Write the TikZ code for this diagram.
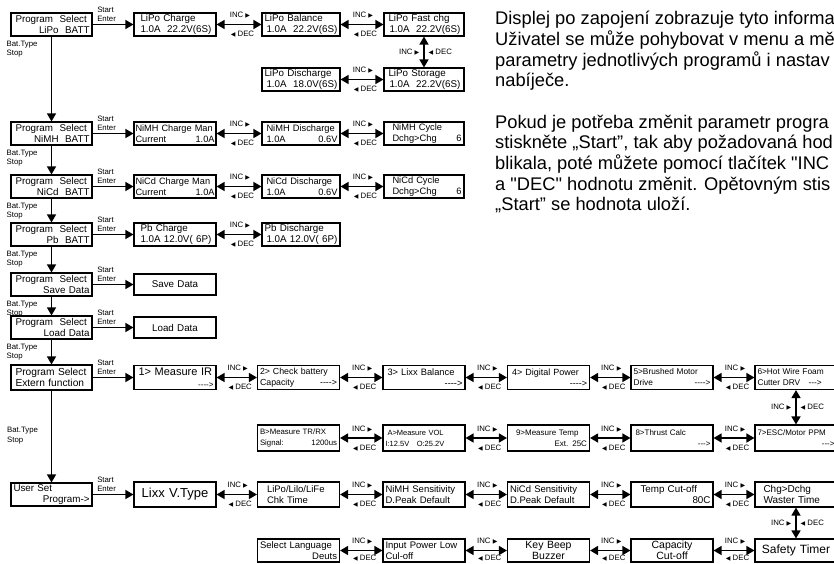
\documentclass[tikz,border=0pt]{standalone}
\usepackage{fontspec}
\setmainfont{Liberation Sans}[Ligatures=TeXOff]
\newfontfamily\symf{DejaVu Sans}
\usetikzlibrary{arrows.meta}

\newcommand\rtri{{\symf\fontsize{6}{5}\selectfont ▶}}
\newcommand\ltri{{\symf\fontsize{6}{5}\selectfont ◀}}

\tikzset{
  lcd/.style={draw, line width=1.1pt, minimum height=23pt, text width=#1,
    inner xsep=2.5pt, inner ysep=1pt, align=left,
    font=\fontsize{9.8}{11}\selectfont},
  lcd/.default=77pt,
  ent/.style={-{Triangle[length=8pt,width=9pt]}, line width=1.4pt},
  dbl/.style={{Triangle[length=8pt,width=9pt]}-{Triangle[length=8pt,width=9pt]}, line width=1.4pt},
  chain/.style={-{Triangle[length=8pt,width=9pt]}, line width=1.4pt},
  small/.style={font=\fontsize{7.8}{9.5}\selectfont, inner sep=0pt, align=left},
  inc/.style={small, above=5.5pt, xshift=1pt},
  dec/.style={small, below=6pt, xshift=3.5pt},
  decb/.style={small, below=4pt, xshift=3.5pt},
  incv/.style={small, left=4pt},
  decv/.style={small, right=4pt},
  sten/.style={small, pos=0, anchor=south west, xshift=4pt, yshift=2pt},
  para/.style={anchor=north west, inner sep=0pt, align=left,
    font=\fontsize{18.3}{20.7}\selectfont},
}

\begin{document}
\begin{tikzpicture}[x=1pt,y=-1pt]

\useasboundingbox (0,0) rectangle (834,563);

% Program Select
\node[lcd=76pt] (psLipo) at (51.5,24.5) {\hspace*{2pt}Program\ \ Select\\\hfill LiPo\ \ BATT\hspace*{1pt}};
\node[lcd=76pt] (psNimh) at (51.5,133.5) {\hspace*{2pt}Program\ \ Select\\\hfill NiMH\ \ BATT\hspace*{1pt}};
\node[lcd=76pt] (psNicd) at (51.5,186.5) {\hspace*{2pt}Program\ \ Select\\\hfill NiCd\ \ BATT\hspace*{1pt}};
\node[lcd=76pt] (psPb) at (51.5,234.5) {\hspace*{2pt}Program\ \ Select\\\hfill Pb\ \ BATT\hspace*{1pt}};
\node[lcd=76pt] (psSave) at (51.5,284.5) {\hspace*{2pt}Program\ \ Select\\\hfill Save Data\hspace*{1pt}};
\node[lcd=76pt] (psLoad) at (51.5,327.5) {\hspace*{2pt}Program\ \ Select\\\hfill Load Data\hspace*{1pt}};
\node[lcd=76pt, minimum height=25pt, font=\fontsize{10.2}{11.5}\selectfont] (psExt) at (51.5,377.5) {\hspace*{2pt}Program Select\\\hspace*{2pt}Extern function};
\node[lcd=76pt] (psUser) at (51.5,494.5) {User Set\\\hfill Program->\hspace*{1pt}};

\draw[chain] (psLipo) -- (psNimh);
\draw[chain] (psNimh) -- (psNicd);
\draw[chain] (psNicd) -- (psPb);
\draw[chain] (psPb) -- (psSave);
\draw[chain] (psSave) -- (psLoad);
\draw[chain] (psLoad) -- (psExt);
\draw[chain] (psExt) -- (psUser);

\node[small, anchor=north west] (btLipo) at ([shift={(-4pt,-4pt)}]psLipo.south west) {Bat.Type\\Stop};
\node[small, anchor=north west] (btNimh) at ([shift={(-4pt,-4pt)}]psNimh.south west) {Bat.Type\\Stop};
\node[small, anchor=north west] (btNicd) at ([shift={(-4pt,-4pt)}]psNicd.south west) {Bat.Type\\Stop};
\node[small, anchor=north west] (btPb) at ([shift={(-4pt,-4pt)}]psPb.south west) {Bat.Type\\Stop};
\node[small, anchor=north west] (btSave) at ([shift={(-4pt,-4pt)}]psSave.south west) {Bat.Type\\Stop};
\node[small, anchor=north west] (btLoad) at ([shift={(-4pt,-4pt)}]psLoad.south west) {Bat.Type\\Stop};
\node[small, anchor=north west] (btExt) at (7,427) {Bat.Type\\Stop};

% LiPo
\node[lcd] (lipoChg) at (175,24.5) {\hspace*{4pt}LiPo Charge\\\hspace*{4pt}1.0A\ \ 22.2V(6S)};
\node[lcd=73pt] (lipoBal) at (301,24.5) {LiPo Balance\\\hspace*{2pt}1.0A\ \ 22.2V(6S)};
\node[lcd=75pt] (lipoFast) at (424,24.5) {\hspace*{2pt}LiPo Fast chg\\\hspace*{3pt}1.0A\ \ 22.2V(6S)};
\node[lcd=73pt] (lipoDis) at (301,79.5) {LiPo Discharge\\\hspace*{2pt}1.0A\ \ 18.0V(6S)};
\node[lcd=75pt] (lipoSto) at (424,79.5) {\hspace*{2pt}LiPo Storage\\\hspace*{3pt}1.0A\ \ 22.2V(6S)};

\draw[ent] (psLipo) -- node[sten] {Start\\Enter} (lipoChg);
\draw[dbl] (lipoChg) -- node[inc] {INC \rtri} node[dec] {\ltri\ DEC} (lipoBal);
\draw[dbl] (lipoBal) -- node[inc] {INC \rtri} node[dec] {\ltri\ DEC} (lipoFast);
\draw[dbl] (lipoFast) -- node[incv] {INC \rtri} node[decv] {\ltri\ DEC} (lipoSto);
\draw[dbl] (lipoDis) -- node[inc] {INC \rtri} node[dec] {\ltri\ DEC} (lipoSto);

% NiMH, NiCd, Pb
\node[lcd=79pt, inner xsep=1.5pt, font=\fontsize{9.2}{11}\selectfont] (nimhChg) at (175,133.5) {NiMH Charge Man\\Current\hfill 1.0A};
\node[lcd=73pt, font=\fontsize{9.3}{11}\selectfont] (nimhDis) at (301,133.5) {\hspace*{2pt}NiMH Discharge\\\hspace*{2pt}1.0A\hfill 0.6V\hspace*{3pt}};
\node[lcd=75pt, font=\fontsize{9.3}{11}\selectfont] (nimhCyc) at (424,133.5) {\hspace*{6pt}NiMH Cycle\\\hspace*{6pt}Dchg>Chg\hfill 6\hspace*{6pt}};
\node[lcd=79pt, inner xsep=1.5pt, font=\fontsize{9.2}{11}\selectfont] (nicdChg) at (175,186.5) {NiCd Charge Man\\Current\hfill 1.0A};
\node[lcd=73pt, font=\fontsize{9.3}{11}\selectfont] (nicdDis) at (301,186.5) {\hspace*{2pt}NiCd Discharge\\\hspace*{2pt}1.0A\hfill 0.6V\hspace*{3pt}};
\node[lcd=75pt, font=\fontsize{9.3}{11}\selectfont] (nicdCyc) at (424,186.5) {\hspace*{6pt}NiCd Cycle\\\hspace*{6pt}Dchg>Chg\hfill 6\hspace*{6pt}};
\node[lcd] (pbChg) at (175,234.5) {\hspace*{4pt}Pb Charge\\\hspace*{4pt}1.0A 12.0V( 6P)};
\node[lcd=73pt] (pbDis) at (301,234.5) {Pb Discharge\\\hspace*{2pt}1.0A 12.0V( 6P)};

\draw[ent] (psNimh) -- node[sten] {Start\\Enter} (nimhChg);
\draw[dbl] (nimhChg) -- node[inc] {INC \rtri} node[dec] {\ltri\ DEC} (nimhDis);
\draw[dbl] (nimhDis) -- node[inc] {INC \rtri} node[dec] {\ltri\ DEC} (nimhCyc);
\draw[ent] (psNicd) -- node[sten] {Start\\Enter} (nicdChg);
\draw[dbl] (nicdChg) -- node[inc] {INC \rtri} node[dec] {\ltri\ DEC} (nicdDis);
\draw[dbl] (nicdDis) -- node[inc] {INC \rtri} node[dec] {\ltri\ DEC} (nicdCyc);
\draw[ent] (psPb) -- node[sten] {Start\\Enter} (pbChg);
\draw[dbl] (pbChg) -- node[inc] {INC \rtri} node[dec] {\ltri\ DEC} (pbDis);

% Save / Load
\node[lcd, align=center, minimum height=21pt] (saveData) at (175,284.5) {Save Data};
\node[lcd, align=center, minimum height=21pt] (loadData) at (175,327.5) {Load Data};
\draw[ent] (psSave) -- node[sten] {Start\\Enter} (saveData);
\draw[ent] (psLoad) -- node[sten] {Start\\Enter} (loadData);

% Extern function
\node[lcd, minimum height=24pt, font=\fontsize{11}{12}\selectfont] (measIR) at (175,377.5) {\hspace*{2pt}1> Measure IR\\\hfill{\fontsize{8}{9}\selectfont ---->}\hspace*{2pt}};
\node[lcd, minimum height=24pt, font=\fontsize{8.8}{11}\selectfont] (chkCap) at (298.5,377.5) {2> Check battery\\Capacity\hfill ---->\hspace*{3pt}};
\node[lcd, minimum height=24pt, font=\fontsize{9.3}{11}\selectfont] (lixxBal) at (424,377.5) {\hspace*{2pt}3> Lixx Balance\\\hfill ---->\hspace*{2pt}};
\node[lcd, minimum height=24pt, font=\fontsize{9}{11}\selectfont] (digPow) at (548.5,377.5) {\hspace*{2pt}4> Digital Power\\\hfill ---->\hspace*{3pt}};
\node[lcd, minimum height=24pt, font=\fontsize{8.3}{11}\selectfont] (brush) at (672,377.5) {5>Brushed Motor\\Drive\hfill ---->\hspace*{3pt}};
\node[lcd, minimum height=24pt, font=\fontsize{8.3}{11}\selectfont] (hotWire) at (796,377.5) {6>Hot Wire Foam\\Cutter DRV\ \ \ --->};

\node[lcd, minimum height=26pt, font=\fontsize{7.8}{11}\selectfont] (trRx) at (298.5,438) {B>Measure TR/RX\\Signal:\hfill 1200us};
\node[lcd, minimum height=26pt, font=\fontsize{7.5}{11}\selectfont] (measVol) at (424,438) {\hspace*{2pt}A>Measure VOL\\I:12.5V\ \ \ O:25.2V};
\node[lcd, minimum height=26pt, font=\fontsize{8}{11}\selectfont] (measTemp) at (548.5,438) {\hspace*{6pt}9>Measure Temp\\\hfill Ext. 25C\hspace*{3pt}};
\node[lcd, minimum height=26pt, font=\fontsize{8}{11}\selectfont] (thrust) at (672,438) {\hspace*{2pt}8>Thrust Calc\\\hfill --->\hspace*{3pt}};
\node[lcd, minimum height=26pt, font=\fontsize{8}{11}\selectfont] (escPpm) at (796,438) {7>ESC/Motor PPM\\\hfill --->};

\draw[ent] (psExt) -- node[sten] {Start\\Enter} (measIR);
\draw[dbl] (measIR) -- node[inc] {INC \rtri} node[dec] {\ltri\ DEC} (chkCap);
\draw[dbl] (chkCap) -- node[inc] {INC \rtri} node[dec] {\ltri\ DEC} (lixxBal);
\draw[dbl] (lixxBal) -- node[inc] {INC \rtri} node[dec] {\ltri\ DEC} (digPow);
\draw[dbl] (digPow) -- node[inc] {INC \rtri} node[dec] {\ltri\ DEC} (brush);
\draw[dbl] (brush) -- node[inc] {INC \rtri} node[dec] {\ltri\ DEC} (hotWire);
\draw[dbl] (hotWire) -- node[incv] {INC \rtri} node[decv] {\ltri\ DEC} (escPpm);
\draw[dbl] (trRx) -- node[inc] {INC \rtri} node[dec] {\ltri\ DEC} (measVol);
\draw[dbl] (measVol) -- node[inc] {INC \rtri} node[dec] {\ltri\ DEC} (measTemp);
\draw[dbl] (measTemp) -- node[inc] {INC \rtri} node[dec] {\ltri\ DEC} (thrust);
\draw[dbl] (thrust) -- node[inc] {INC \rtri} node[dec] {\ltri\ DEC} (escPpm);

% User Set
\node[lcd, align=center, minimum height=25pt, font=\fontsize{13}{14}\selectfont] (lixx) at (175,494.5) {Lixx V.Type};
\node[lcd, minimum height=25pt, font=\fontsize{9.5}{11.5}\selectfont] (lipoChk) at (298.5,494.5) {\hspace*{7pt}LiPo/Lilo/LiFe\\\hspace*{7pt}Chk Time};
\node[lcd, minimum height=25pt, font=\fontsize{9.5}{11.5}\selectfont] (nimhSens) at (424,494.5) {NiMH Sensitivity\\D.Peak Default};
\node[lcd, minimum height=25pt, font=\fontsize{9.5}{11.5}\selectfont] (nicdSens) at (548.5,494.5) {NiCd Sensitivity\\D.Peak Default};
\node[lcd, minimum height=25pt, font=\fontsize{9.8}{11.5}\selectfont] (tempCut) at (672,494.5) {\hspace*{7pt}Temp Cut-off\\\hfill 80C\hspace*{3pt}};
\node[lcd, minimum height=25pt, font=\fontsize{10}{11.5}\selectfont] (chgDchg) at (796,494.5) {\hspace*{6pt}Chg>Dchg\\\hspace*{6pt}Waster Time};

\node[lcd, font=\fontsize{9.5}{11}\selectfont] (lang) at (298.5,550.5) {Select Language\\\hfill Deuts\hspace*{1pt}};
\node[lcd, font=\fontsize{9.5}{11}\selectfont] (inLow) at (424,550.5) {Input Power Low\\Cul-off};
\node[lcd, align=center, font=\fontsize{10.5}{11}\selectfont] (keyBeep) at (548.5,550.5) {Key Beep\\Buzzer};
\node[lcd, align=center, font=\fontsize{10.5}{11}\selectfont] (capCut) at (672,550.5) {Capacity\\Cut-off};
\node[lcd, align=center, font=\fontsize{12}{13}\selectfont] (safety) at (796,550.5) {Safety Timer};

\draw[ent] (psUser) -- node[sten] {Start\\Enter} (lixx);
\draw[dbl] (lixx) -- node[inc] {INC \rtri} node[dec] {\ltri\ DEC} (lipoChk);
\draw[dbl] (lipoChk) -- node[inc] {INC \rtri} node[dec] {\ltri\ DEC} (nimhSens);
\draw[dbl] (nimhSens) -- node[inc] {INC \rtri} node[dec] {\ltri\ DEC} (nicdSens);
\draw[dbl] (nicdSens) -- node[inc] {INC \rtri} node[dec] {\ltri\ DEC} (tempCut);
\draw[dbl] (tempCut) -- node[inc] {INC \rtri} node[dec] {\ltri\ DEC} (chgDchg);
\draw[dbl] (chgDchg) -- node[incv] {INC \rtri} node[decv] {\ltri\ DEC} (safety);
\draw[dbl] (lang) -- node[inc] {INC \rtri} node[decb] {\ltri\ DEC} (inLow);
\draw[dbl] (inLow) -- node[inc] {INC \rtri} node[decb] {\ltri\ DEC} (keyBeep);
\draw[dbl] (keyBeep) -- node[inc] {INC \rtri} node[decb] {\ltri\ DEC} (capCut);
\draw[dbl] (capCut) -- node[inc] {INC \rtri} node[decb] {\ltri\ DEC} (safety);

% text
\node[para] (info) at (495,11) {Displej po zapojení zobrazuje tyto informa\\Uživatel se může pohybovat v menu a mě\\parametry jednotlivých programů i nastav\\nabíječe.\\[20.7pt]Pokud je potřeba změnit parametr progra\\stiskněte „Start”, tak aby požadovaná hod\\blikala, poté můžete pomocí tlačítek "INC\\a "DEC" hodnotu změnit. Opětovným stis\\„Start” se hodnota uloží.};

\end{tikzpicture}
\end{document}
